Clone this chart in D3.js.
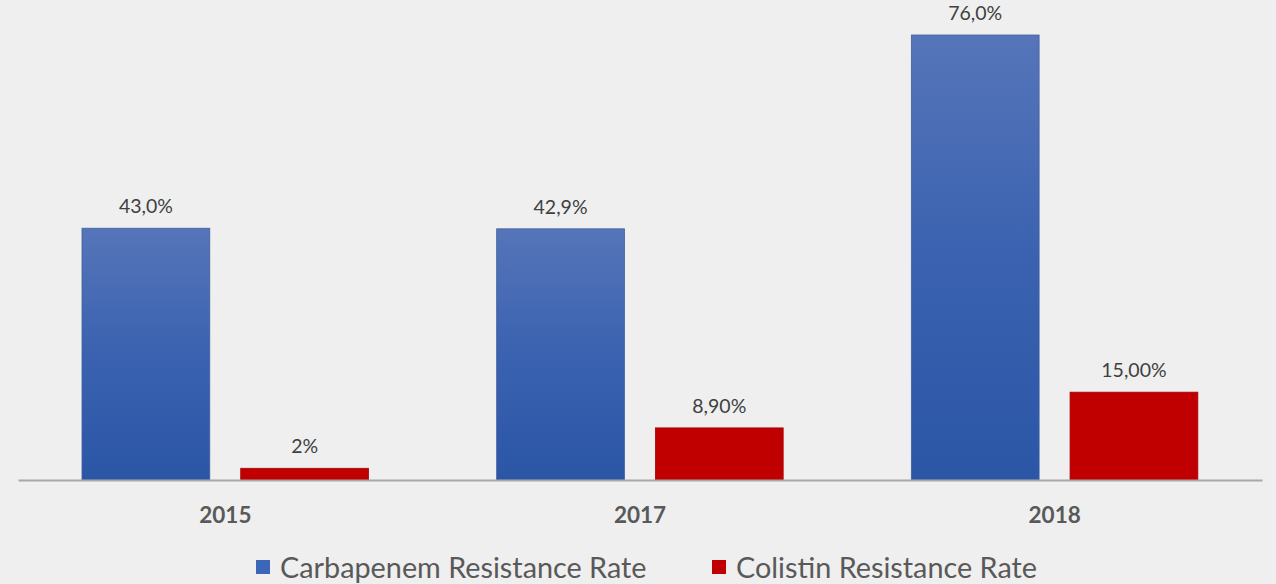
<!DOCTYPE html>
<html>
<head>
<meta charset="utf-8">
<script src="https://cdn.jsdelivr.net/npm/d3@7"></script>
<style>
  html, body { margin: 0; padding: 0; background: #efefef; }
  svg { display: block; }
</style>
</head>
<body>
<svg id="chart" width="1276" height="584"></svg>
<script>
// Resistance rates by year
const years = ["2015", "2017", "2018"];
const seriesNames = ["Carbapenem Resistance Rate", "Colistin Resistance Rate"];
const carbapenem = [43.0, 42.9, 76.0];
const colistin = [2, 8.9, 15.0];
const carbapenemLabels = ["43,0%", "42,9%", "76,0%"];
const colistinLabels = ["2%", "8,90%", "15,00%"];

const W = 1276, H = 584;
const baseY = 480;
const svg = d3.select("#chart");

const defs = svg.append("defs");
const gBlue = defs.append("linearGradient").attr("id", "blueGrad")
  .attr("x1", 0).attr("y1", 0).attr("x2", 0).attr("y2", 1);
gBlue.append("stop").attr("offset", "0%").attr("stop-color", "#5675b9");
gBlue.append("stop").attr("offset", "50%").attr("stop-color", "#3a62b0");
gBlue.append("stop").attr("offset", "100%").attr("stop-color", "#2b56a6");

const colors = { [seriesNames[0]]: "url(#blueGrad)", [seriesNames[1]]: "#c00000" };
const legendColors = ["#3c66b8", "#c00000"];

const x0 = d3.scaleBand().domain(years).range([18, 1262]).padding(0);
const x1 = d3.scaleBand().domain(seriesNames).range([64, 350.5]).paddingInner(0.195).paddingOuter(0);
const y = d3.scaleLinear().domain([0, 80]).range([baseY, baseY - 468.4]);

const rows = years.map((yr, i) => ({
  year: yr,
  vals: [
    { key: seriesNames[0], value: carbapenem[i], label: carbapenemLabels[i] },
    { key: seriesNames[1], value: colistin[i], label: colistinLabels[i] }
  ]
}));

const groups = svg.append("g").selectAll("g").data(rows).join("g")
  .attr("transform", d => `translate(${x0(d.year)},0)`);

groups.selectAll("rect").data(d => d.vals).join("rect")
  .attr("x", d => x1(d.key))
  .attr("y", d => y(d.value))
  .attr("width", x1.bandwidth())
  .attr("height", d => baseY - y(d.value))
  .attr("fill", d => colors[d.key])
  .attr("stroke", d => d.key === seriesNames[0] ? "#3f5f9f" : "#a80000")
  .attr("stroke-width", 0.8);

groups.selectAll("text.val").data(d => d.vals).join("text")
  .attr("class", "val")
  .attr("x", d => x1(d.key) + x1.bandwidth() / 2)
  .attr("y", d => y(d.value) - 15)
  .attr("text-anchor", "middle")
  .attr("font-family", "Lato, sans-serif")
  .attr("font-size", 19.5)
  .attr("fill", "#404040")
  .text(d => d.label);

// Category axis
const xAxis = d3.axisBottom(x0).tickSize(0).tickPadding(0);
const ax = svg.append("g").attr("transform", `translate(0,${baseY})`).call(xAxis);
ax.select(".domain").attr("stroke", "#a8a8a8").attr("stroke-width", 2);
ax.selectAll(".tick text")
  .attr("y", 43)
  .attr("dy", 0)
  .attr("font-family", "Lato, sans-serif")
  .attr("font-weight", "bold")
  .attr("font-size", 22.5)
  .attr("fill", "#595959");

// Legend
const legend = svg.append("g");
const legendX = [256, 712];
seriesNames.forEach((name, i) => {
  const g = legend.append("g").attr("transform", `translate(${legendX[i]},0)`);
  g.append("rect").attr("x", 0).attr("y", 560).attr("width", 14).attr("height", 14)
    .attr("fill", legendColors[i]);
  g.append("text").attr("x", 24).attr("y", 578)
    .attr("font-family", "Lato, sans-serif")
    .attr("font-size", 28.8)
    .attr("fill", "#595959")
    .text(name);
});
</script>
</body>
</html>
